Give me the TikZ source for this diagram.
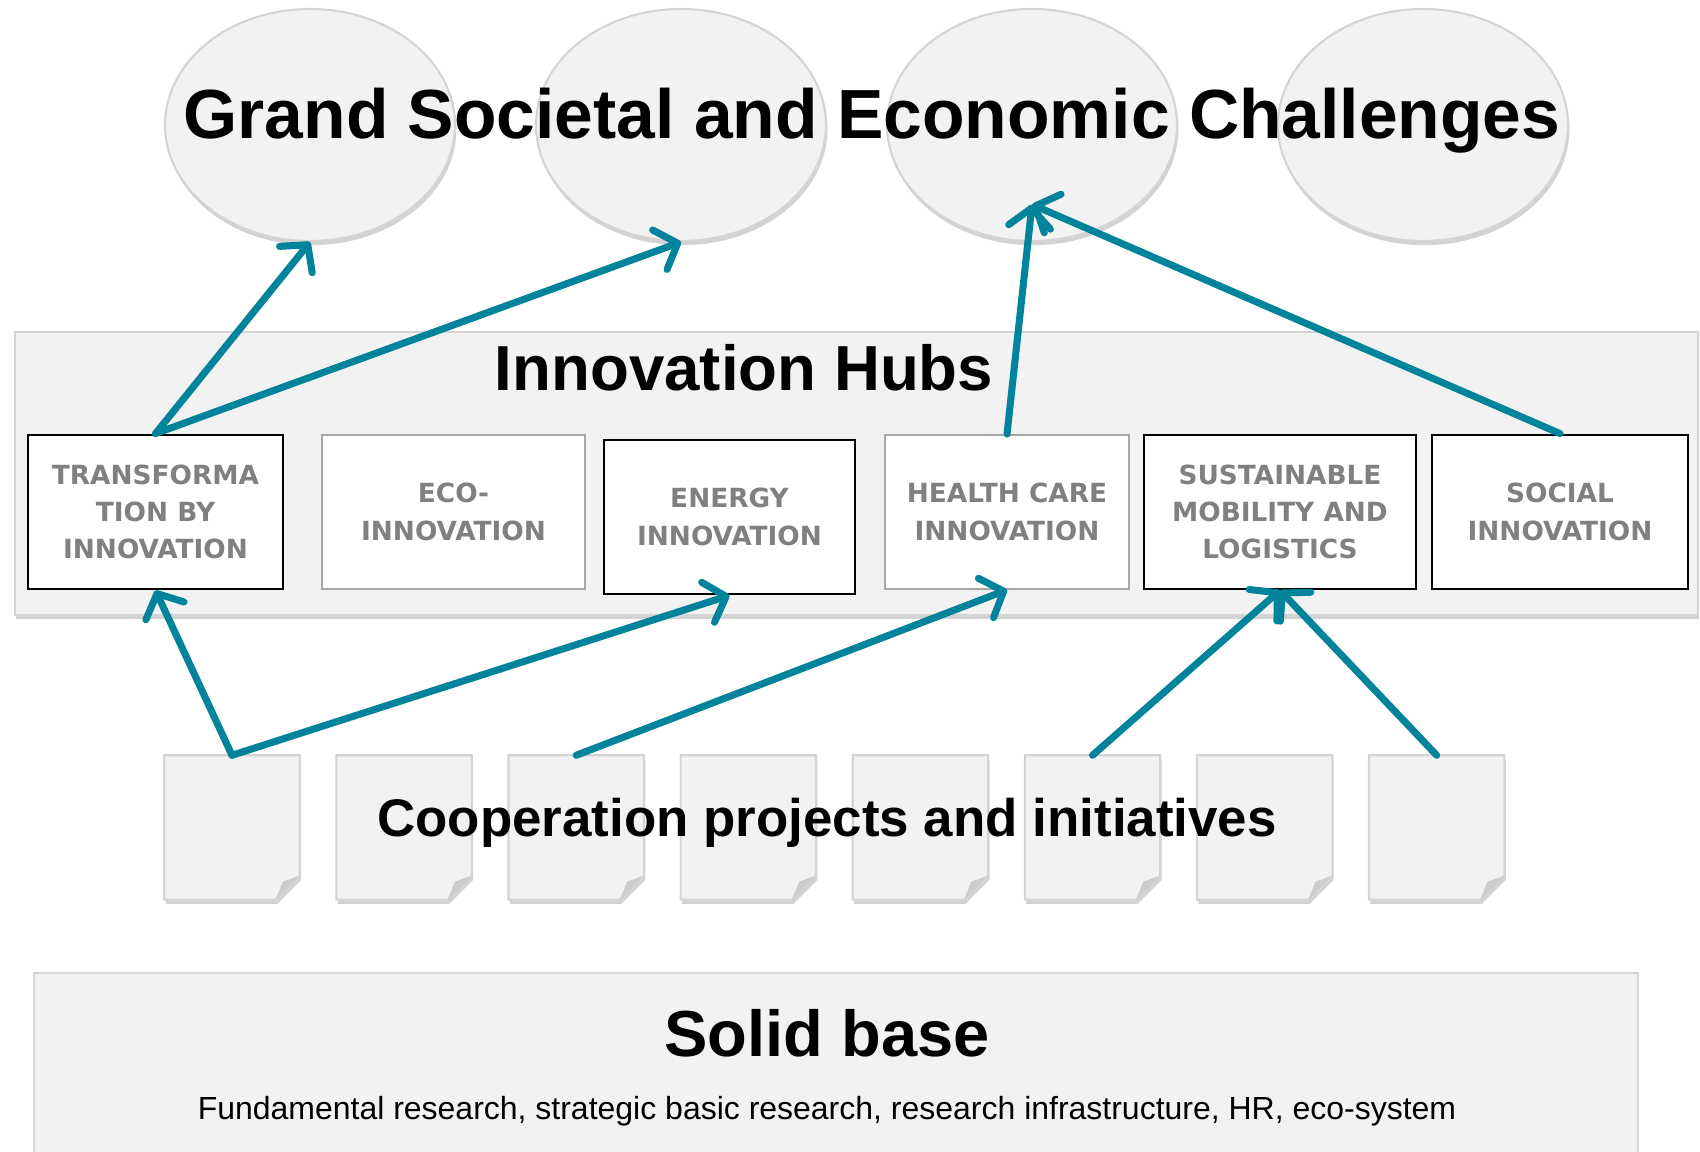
\documentclass[tikz,border=0pt]{standalone}
\usepackage{fontspec}
\usetikzlibrary{positioning,arrows.meta,shapes.geometric,calc,shadows}
\newfontfamily\headfont{Liberation Sans}
\newfontfamily\hubfont{DejaVu Sans}
\definecolor{panelgray}{HTML}{F2F2F2}
\definecolor{edgegray}{HTML}{D4D4D4}
\definecolor{hubgray}{HTML}{808080}
\definecolor{linkteal}{RGB}{0,131,155}

\begin{document}
\begin{tikzpicture}[
    panel/.style={fill=panelgray, draw=edgegray, line width=0.6pt,
        drop shadow={shadow xshift=0.4pt, shadow yshift=-1.2pt, opacity=0.35}},
    challenge/.style={ellipse, panel, minimum width=2.90cm, minimum height=2.32cm, inner sep=0pt},
    hub/.style={draw=black, line width=0.8pt, fill=white, minimum height=1.54cm, inner sep=0pt,
        align=center, text=hubgray, font=\hubfont\bfseries\fontsize{7.5}{10.6}\selectfont},
    hubthin/.style={hub, draw=gray!70, line width=0.5pt},
    doc/.style={minimum width=1.34cm, minimum height=1.43cm, inner sep=0pt},
    link/.style={linkteal, line width=2pt, line cap=round,
        -{Straight Barb[length=1.9mm,width=4.2mm,round]}},
]
    \useasboundingbox (0,0) rectangle (17,11.52);

    % Challenges on top
    \node[challenge] (e1) at (3.10,10.27) {};
    \node[challenge] (e2) at (6.81,10.27) {};
    \node[challenge] (e3) at (10.32,10.27) {};
    \node[challenge] (e4) at (14.23,10.27) {};
    \node[anchor=base, font=\headfont\bfseries\fontsize{19.8}{24}\selectfont] (title) at (8.72,10.13)
        {Grand Societal and Economic Challenges};

    % Innovation hubs
    \node[panel, minimum width=16.83cm, minimum height=2.83cm, inner sep=0pt] (hubs) at (8.565,6.785) {};
    \node[anchor=base, font=\headfont\bfseries\fontsize{18.1}{22}\selectfont] (hubtitle) at (7.44,7.61)
        {Innovation Hubs};

    \node[hub, minimum width=2.55cm] (h1) at (1.555,6.40) {TRANSFORMA\\TION BY\\INNOVATION};
    \node[hubthin, minimum width=2.63cm] (h2) at (4.535,6.40) {ECO-\\INNOVATION};
    \node[hub, minimum width=2.51cm] (h3) at (7.295,6.35) {ENERGY\\INNOVATION};
    \node[hubthin, minimum width=2.44cm] (h4) at (10.07,6.40) {HEALTH CARE\\INNOVATION};
    \node[hub, minimum width=2.72cm] (h5) at (12.80,6.40) {SUSTAINABLE\\MOBILITY AND\\LOGISTICS};
    \node[hub, minimum width=2.56cm] (h6) at (15.60,6.40) {SOCIAL\\INNOVATION};

    % Cooperation projects (pages with folded corner)
    \foreach \i in {1,...,8} {
        \node[doc] (d\i) at ({2.32+1.721*(\i-1)},3.245) {};
        \path[panel] (d\i.north west) -- (d\i.north east) -- ([yshift=0.24cm]d\i.south east)
            -- ([xshift=-0.24cm]d\i.south east) -- (d\i.south west) -- cycle;
        \fill[gray!40] ([yshift=0.24cm]d\i.south east) -- ([xshift=-0.24cm]d\i.south east)
            -- ([xshift=-0.17cm,yshift=0.18cm]d\i.south east) -- cycle;
    }
    \node[anchor=base, font=\headfont\bfseries\fontsize{15.05}{18}\selectfont] (coop) at (8.27,3.15)
        {Cooperation projects and initiatives};

    % Solid base
    \node[panel, minimum width=16.04cm, minimum height=1.95cm, inner sep=0pt, anchor=north west] (base) at (0.33,1.80) {};
    \node[anchor=base, font=\headfont\bfseries\fontsize{18.5}{22}\selectfont] (basetitle) at (8.27,0.95) {Solid base};
    \node[anchor=base, font=\headfont\fontsize{9.1}{11}\selectfont] (basetext) at (8.27,0.32)
        {Fundamental research, strategic basic research, research infrastructure, HR, eco-system};

    % Links
    \coordinate (e3tip) at ($(e3.center)!0.68!(e3.south)$);
    \draw[link] (h1.north) -- (e1.south);
    \draw[link] (h1.north) -- (e2.south);
    \draw[link] (h4.north) -- (e3tip);
    \draw[link] (h6.north) -- (e3tip);
    \draw[link] (d1.north) -- (h1.south);
    \draw[link] (d1.north) -- (h3.south);
    \draw[link] (d3.north) -- (h4.south);
    \draw[link] (d6.north) -- (h5.south);
    \draw[link] (d8.north) -- (h5.south);
\end{tikzpicture}
\end{document}
